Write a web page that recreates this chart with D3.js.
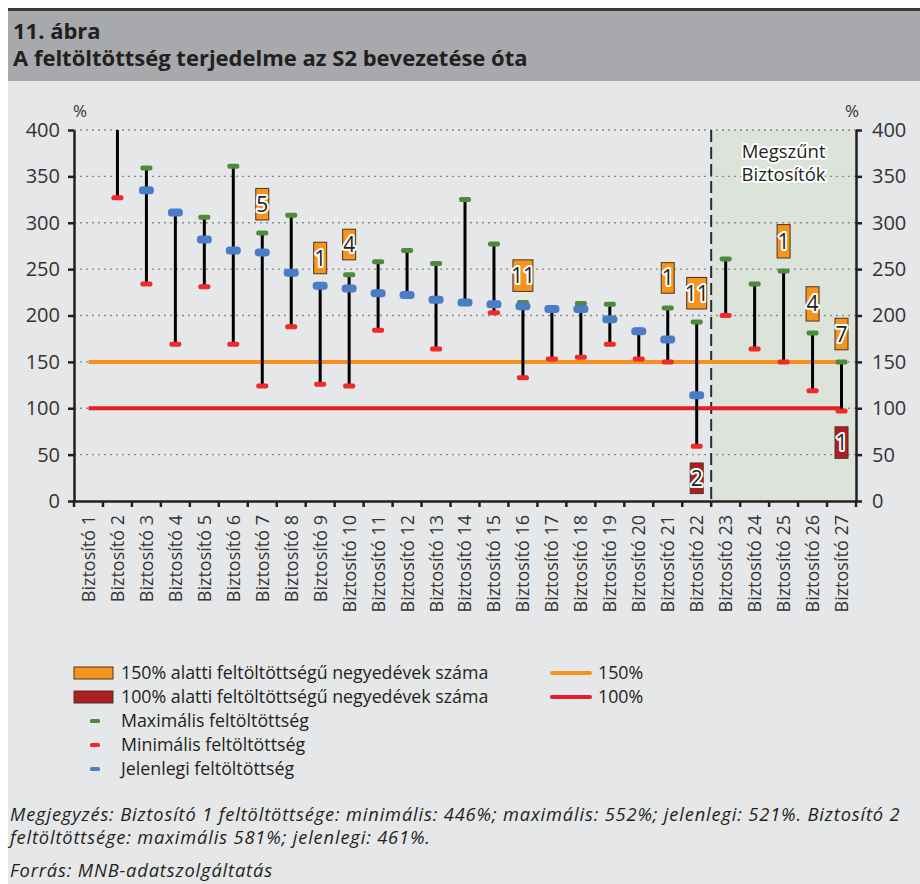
<!DOCTYPE html>
<html>
<head>
<meta charset="utf-8">
<script src="https://cdn.jsdelivr.net/npm/d3@7"></script>
<style>
body { margin: 0; background: #fff; }
svg { display: block; font-family: "Open Sans", "Noto Sans", sans-serif; }
</style>
</head>
<body>
<svg id="chart" width="920" height="884"></svg>
<script>
// Data (%)
var insurers = ["Biztosító 1", "Biztosító 2", "Biztosító 3", "Biztosító 4", "Biztosító 5", "Biztosító 6",
    "Biztosító 7", "Biztosító 8", "Biztosító 9", "Biztosító 10", "Biztosító 11", "Biztosító 12",
    "Biztosító 13", "Biztosító 14", "Biztosító 15", "Biztosító 16", "Biztosító 17", "Biztosító 18",
    "Biztosító 19", "Biztosító 20", "Biztosító 21", "Biztosító 22", "Biztosító 23", "Biztosító 24",
    "Biztosító 25", "Biztosító 26", "Biztosító 27"];
var maxValues = [552, 581, 359, 311, 306, 361, 289, 308, 232, 244, 258, 270, 256, 325, 277, 214,
    208, 213, 212, 184, 208, 193, 261, 234, 248, 181, 150];
var minValues = [446, 327, 234, 169, 231, 169, 124, 188, 126, 124, 184, 222, 164, 214, 203, 133,
    153, 155, 169, 153, 150, 59, 200, 164, 150, 119, 97];
var currentValues = [521, 461, 335, 311, 282, 270, 268, 246, 232, 229, 224, 222, 217, 214, 212, 210,
    207, 207, 196, 183, 174, 114, null, null, null, null, null];

// quarters below 150% / 100% (count, and the span of the label box)
var under150Count = [0, 0, 0, 0, 0, 0, 5, 0, 1, 4, 0, 0, 0, 0, 0, 11, 0, 0, 0, 0, 1, 11, 0, 0, 1, 4, 7];
var under150Low = [0, 0, 0, 0, 0, 0, 303, 0, 245, 260, 0, 0, 0, 0, 0, 226, 0, 0, 0, 0, 224, 207, 0, 0, 262, 194, 163];
var under150High = [0, 0, 0, 0, 0, 0, 337, 0, 279, 293, 0, 0, 0, 0, 0, 260, 0, 0, 0, 0, 257, 241, 0, 0, 298, 231, 197];
var under100Count = [0, 0, 0, 0, 0, 0, 0, 0, 0, 0, 0, 0, 0, 0, 0, 0, 0, 0, 0, 0, 0, 2, 0, 0, 0, 0, 1];
var under100Low = [0, 0, 0, 0, 0, 0, 0, 0, 0, 0, 0, 0, 0, 0, 0, 0, 0, 0, 0, 0, 0, 8, 0, 0, 0, 0, 46];
var under100High = [0, 0, 0, 0, 0, 0, 0, 0, 0, 0, 0, 0, 0, 0, 0, 0, 0, 0, 0, 0, 0, 41, 0, 0, 0, 0, 80];

var thresholds = [150, 100];
var yTicks = [0, 50, 100, 150, 200, 250, 300, 350, 400];
var firstDefunct = "Biztosító 23";

var colors = {
    under150: "#F7941D", under100: "#AD1F24",
    max: "#4E8A3C", min: "#EE2A2B", current: "#4A7DC5",
    line150: "#F7901E", line100: "#E31E26",
    text: "#231F20"
};

var svg = d3.select("#chart");
var W = 920, H = 884;

// page frame: header band + light panel
svg.append("rect").attr("x", 8).attr("y", 8).attr("width", W - 8).attr("height", 3).style("fill", "#3a3a3a");
svg.append("rect").attr("x", 8).attr("y", 11).attr("width", W - 8).attr("height", 70).style("fill", "#A7A9AC");
svg.append("rect").attr("x", 8).attr("y", 81).attr("width", W - 8).attr("height", H - 81).style("fill", "#E6E7E8");

svg.append("text").attr("x", 13).attr("y", 39)
    .style("font-weight", "bold").style("font-size", "22px").style("fill", colors.text)
    .text("11. ábra");
svg.append("text").attr("x", 13).attr("y", 66)
    .style("font-weight", "bold").style("font-size", "22px").style("fill", colors.text)
    .text("A feltöltöttség terjedelme az S2 bevezetése óta");

var x = d3.scaleBand().domain(insurers).range([74, 856]).padding(0);
var y = d3.scaleLinear().domain([0, 400]).range([501, 130]);
var cx = function (i) { return x(insurers[i]) + x.bandwidth() / 2; };

// defunct insurers area
var xDef = x(firstDefunct);
svg.append("rect")
    .attr("x", xDef).attr("y", y(400))
    .attr("width", x.range()[1] - xDef).attr("height", y(0) - y(400))
    .style("fill", "#DCE3DB");

// dotted gridlines
svg.append("g").selectAll("line")
    .data(yTicks.filter(function (d) { return d > 0; }))
    .join("line")
    .attr("x1", x.range()[0]).attr("x2", x.range()[1])
    .attr("y1", function (d) { return y(d); }).attr("y2", function (d) { return y(d); })
    .style("stroke", "#8a8a8a").style("stroke-width", 1.3).style("stroke-dasharray", "2,4");

svg.append("line")
    .attr("x1", xDef).attr("x2", xDef).attr("y1", y(400)).attr("y2", y(0))
    .style("stroke", "#2b2b2b").style("stroke-width", 2).style("stroke-dasharray", "12,5");

svg.append("text")
    .attr("x", (xDef + x.range()[1]) / 2).attr("y", 158)
    .attr("text-anchor", "middle")
    .style("font-size", "18.5px").style("fill", colors.text)
    .style("stroke", "#fff").style("stroke-width", 4).style("stroke-linejoin", "round").style("paint-order", "stroke")
    .selectAll("tspan").data(["Megszűnt", "Biztosítók"]).join("tspan")
    .attr("x", (xDef + x.range()[1]) / 2).attr("dy", function (d, i) { return i ? 23 : 0; })
    .text(function (d) { return d; });

// 150% and 100% lines
svg.append("g").selectAll("line")
    .data(thresholds)
    .join("line")
    .attr("x1", cx(0)).attr("x2", cx(insurers.length - 1))
    .attr("y1", function (d) { return y(d); }).attr("y2", function (d) { return y(d); })
    .style("stroke", function (d) { return d === 150 ? colors.line150 : colors.line100; })
    .style("stroke-width", 4);

// high-low whiskers and markers, clipped to the plot
svg.append("clipPath").attr("id", "plot-clip")
    .append("rect").attr("x", x.range()[0]).attr("y", y(400))
    .attr("width", x.range()[1] - x.range()[0]).attr("height", y(0) - y(400));

var plot = svg.append("g").attr("clip-path", "url(#plot-clip)");
var idx = d3.range(insurers.length);

plot.selectAll(".whisker").data(idx).join("line")
    .attr("class", "whisker")
    .attr("x1", cx).attr("x2", cx)
    .attr("y1", function (i) { return y(maxValues[i]); })
    .attr("y2", function (i) { return y(minValues[i]); })
    .style("stroke", "#000").style("stroke-width", 3);

function markers(cls, values, color, w, h) {
    plot.selectAll("." + cls)
        .data(idx.filter(function (i) { return values[i] != null; }))
        .join("rect")
        .attr("class", cls)
        .attr("x", function (i) { return cx(i) - w / 2; })
        .attr("y", function (i) { return y(values[i]) - h / 2; })
        .attr("width", w).attr("height", h).attr("rx", h / 2 - 0.5)
        .style("fill", color);
}
markers("max-mark", maxValues, colors.max, 12, 5);
markers("min-mark", minValues, colors.min, 12, 5);
markers("cur-mark", currentValues, colors.current, 15, 8);

// count boxes with white-haloed numbers
function countBoxes(cls, counts, lows, highs, color) {
    var g = svg.append("g").selectAll("g")
        .data(idx.filter(function (i) { return counts[i] > 0; }))
        .join("g").attr("class", cls);
    g.append("rect")
        .attr("x", function (i) { return cx(i) - (counts[i] > 9 ? 10 : 6.5); })
        .attr("width", function (i) { return counts[i] > 9 ? 20 : 13; })
        .attr("y", function (i) { return y(highs[i]); })
        .attr("height", function (i) { return y(lows[i]) - y(highs[i]); })
        .style("fill", color).style("stroke", "#4a3520").style("stroke-width", 1);
    g.append("text")
        .attr("x", cx)
        .attr("y", function (i) { return y((lows[i] + highs[i]) / 2); })
        .attr("dy", "0.36em").attr("text-anchor", "middle")
        .style("font-size", "21px").style("fill", colors.text)
        .style("stroke", "#fff").style("stroke-width", 4).style("stroke-linejoin", "round").style("paint-order", "stroke")
        .text(function (i) { return counts[i]; });
}
countBoxes("under150", under150Count, under150Low, under150High, colors.under150);
countBoxes("under100", under100Count, under100Low, under100High, colors.under100);

// axes
var axisLeft = svg.append("g").attr("transform", "translate(" + x.range()[0] + ",0)")
    .call(d3.axisLeft(y).tickValues(yTicks).tickSize(6).tickSizeOuter(0).tickPadding(8));
var axisRight = svg.append("g").attr("transform", "translate(" + x.range()[1] + ",0)")
    .call(d3.axisRight(y).tickValues(yTicks).tickSize(6).tickSizeOuter(0).tickPadding(10));
var axisBottom = svg.append("g").attr("transform", "translate(0," + y(0) + ")")
    .call(d3.axisBottom(x).tickSize(0).tickSizeOuter(0));

axisBottom.selectAll(".tick text")
    .attr("transform", "rotate(-90)")
    .attr("x", -14).attr("y", 0).attr("dy", "0.36em")
    .style("text-anchor", "end");

// bottom ticks sit on the category borders
svg.append("g").selectAll("line")
    .data(insurers.map(function (d) { return x(d); }).concat([x.range()[1]]))
    .join("line")
    .attr("x1", function (d) { return d; }).attr("x2", function (d) { return d; })
    .attr("y1", y(0)).attr("y2", y(0) + 6)
    .style("stroke", "#231F20").style("stroke-width", 2.5);

[axisLeft, axisRight, axisBottom].forEach(function (a) {
    a.select(".domain").style("stroke", "#231F20").style("stroke-width", 2.5);
    a.selectAll(".tick line").style("stroke", "#231F20").style("stroke-width", 2.5);
    a.selectAll(".tick text").style("fill", "#333").style("font-family", "'Open Sans', sans-serif");
});
axisLeft.selectAll(".tick text").style("font-size", "20px");
axisRight.selectAll(".tick text").style("font-size", "20px");
axisBottom.selectAll(".tick text").style("font-size", "18px");

svg.append("text").attr("x", 80).attr("y", 117).attr("text-anchor", "middle")
    .style("font-size", "17px").style("fill", "#333").text("%");
svg.append("text").attr("x", 852).attr("y", 117).attr("text-anchor", "middle")
    .style("font-size", "17px").style("fill", "#333").text("%");

// legend
var legendRows = [
    { label: "150% alatti feltöltöttségű negyedévek száma", type: "box", color: colors.under150 },
    { label: "100% alatti feltöltöttségű negyedévek száma", type: "box", color: colors.under100 },
    { label: "Maximális feltöltöttség", type: "dash", color: colors.max },
    { label: "Minimális feltöltöttség", type: "dash", color: colors.min },
    { label: "Jelenlegi feltöltöttség", type: "dash", color: colors.current }
];
var legend = svg.append("g").attr("transform", "translate(0,673)");
var row = legend.selectAll("g").data(legendRows).join("g")
    .attr("transform", function (d, i) { return "translate(0," + i * 24 + ")"; });
row.filter(function (d) { return d.type === "box"; }).append("rect")
    .attr("x", 74).attr("y", -6).attr("width", 39).attr("height", 12)
    .style("fill", function (d) { return d.color; }).style("stroke", "#4a3520").style("stroke-width", 1);
row.filter(function (d) { return d.type === "dash"; }).append("rect")
    .attr("x", 90).attr("y", -2).attr("width", 10).attr("height", 4).attr("rx", 1.5)
    .style("fill", function (d) { return d.color; });
row.append("text").attr("x", 121).attr("dy", "0.35em")
    .style("font-size", "17.8px").style("fill", colors.text)
    .text(function (d) { return d.label; });

var legendLines = legend.selectAll(".lline").data(thresholds).join("g")
    .attr("class", "lline")
    .attr("transform", function (d, i) { return "translate(0," + i * 24 + ")"; });
legendLines.append("line").attr("x1", 552).attr("x2", 590)
    .style("stroke", function (d) { return d === 150 ? colors.line150 : colors.line100; })
    .style("stroke-width", 4).style("stroke-linecap", "round");
legendLines.append("text").attr("x", 598).attr("dy", "0.35em")
    .style("font-size", "17.8px").style("fill", colors.text)
    .text(function (d) { return d + "%"; });

// notes
var notes = [
    { y: 821, t: "Megjegyzés: Biztosító 1 feltöltöttsége: minimális: 446%; maximális: 552%; jelenlegi: 521%. Biztosító 2" },
    { y: 844, t: "feltöltöttsége: maximális 581%; jelenlegi: 461%." },
    { y: 877, t: "Forrás: MNB-adatszolgáltatás" }
];
svg.append("g").selectAll("text").data(notes).join("text")
    .attr("x", 10).attr("y", function (d) { return d.y; })
    .style("font-style", "italic").style("font-size", "18.3px").style("letter-spacing", "0.85px")
    .style("fill", colors.text)
    .text(function (d) { return d.t; });
</script>
</body>
</html>
